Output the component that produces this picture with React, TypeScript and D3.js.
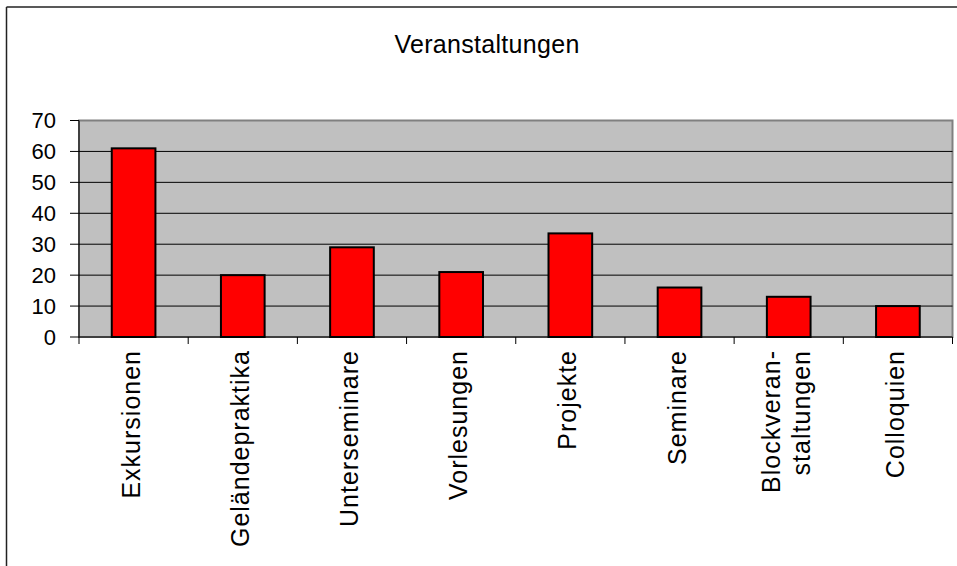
import React from "react";
import * as d3 from "d3";

const title = "Veranstaltungen";
const categories = [
  "Exkursionen",
  "Geländepraktika",
  "Unterseminare",
  "Vorlesungen",
  "Projekte",
  "Seminare",
  "Blockveranstaltungen",
  "Colloquien",
];
const categoryLabelLines = [
  ["Exkursionen"],
  ["Geländepraktika"],
  ["Unterseminare"],
  ["Vorlesungen"],
  ["Projekte"],
  ["Seminare"],
  ["Blockveran-", "staltungen"],
  ["Colloquien"],
];
const values = [61, 20, 29, 21, 33.5, 16, 13, 10];
const yTicks = [0, 10, 20, 30, 40, 50, 60, 70];

const W = 957;
const H = 566;
const plot = { left: 79, right: 952.5, top: 120.5, bottom: 337 };
const FONT = "'Liberation Sans', Arial, sans-serif";

export default function App() {
  const x = d3
    .scaleBand<string>()
    .domain(categories)
    .range([plot.left, plot.right])
    .paddingInner(0.6)
    .paddingOuter(0.3);
  const y = d3.scaleLinear().domain([0, 70]).range([plot.bottom, plot.top]);
  const step = x.step();
  const boundaries = d3.range(categories.length + 1).map((i) => plot.left + i * step);

  return (
    <svg
      width={W}
      height={H}
      style={{ position: "fixed", left: 0, top: 0, background: "#fff" }}
      fontFamily={FONT}
    >
      <rect x={0} y={0} width={W} height={H} fill="#fff" />
      {/* outer chart frame */}
      <line x1={6.5} y1={7} x2={W} y2={7} stroke="#222" strokeWidth={1.5} />
      <line x1={6.5} y1={7} x2={6.5} y2={H} stroke="#222" strokeWidth={1.5} />

      <text x={487} y={53} textAnchor="middle" fontSize={25} letterSpacing={0.3} fill="#000">
        {title}
      </text>

      {/* plot area */}
      <rect
        x={plot.left}
        y={plot.top}
        width={plot.right - plot.left}
        height={plot.bottom - plot.top}
        fill="#C0C0C0"
        stroke="#808080"
        strokeWidth={2}
      />
      {yTicks.slice(1, -1).map((t) => (
        <line key={t} x1={plot.left} x2={plot.right} y1={y(t)} y2={y(t)} stroke="#000" strokeWidth={1} />
      ))}

      {/* bars */}
      {categories.map((c, i) => (
        <rect
          key={c}
          x={x(c)}
          y={y(values[i])}
          width={x.bandwidth()}
          height={y(0) - y(values[i])}
          fill="#FF0000"
          stroke="#000"
          strokeWidth={2}
        />
      ))}

      {/* y axis */}
      <line x1={plot.left} x2={plot.left} y1={plot.top} y2={plot.bottom} stroke="#000" strokeWidth={1} />
      {yTicks.map((t) => (
        <g key={t}>
          <line x1={plot.left - 9} x2={plot.left} y1={y(t)} y2={y(t)} stroke="#000" strokeWidth={1} />
          <text x={56} y={y(t)} dy="0.36em" textAnchor="end" fontSize={22} fill="#000">
            {t}
          </text>
        </g>
      ))}

      {/* x axis */}
      <line x1={plot.left} x2={plot.right} y1={plot.bottom} y2={plot.bottom} stroke="#000" strokeWidth={1} />
      {boundaries.map((b, i) => (
        <line key={i} x1={b} x2={b} y1={plot.bottom} y2={plot.bottom + 7} stroke="#000" strokeWidth={1} />
      ))}
      {categories.map((c, i) => {
        const cx = (x(c) as number) + x.bandwidth() / 2;
        const lines = categoryLabelLines[i];
        const lh = 30;
        return (
          <text
            key={c}
            transform={`translate(${cx},${350}) rotate(-90)`}
            textAnchor="end"
            fontSize={25}
            letterSpacing={1}
            fill="#000"
          >
            {lines.map((ln, j) => (
              <tspan
                key={j}
                x={0}
                y={(j - (lines.length - 1) / 2) * lh - 3}
                dy="0.36em"
              >
                {ln}
              </tspan>
            ))}
          </text>
        );
      })}
    </svg>
  );
}
